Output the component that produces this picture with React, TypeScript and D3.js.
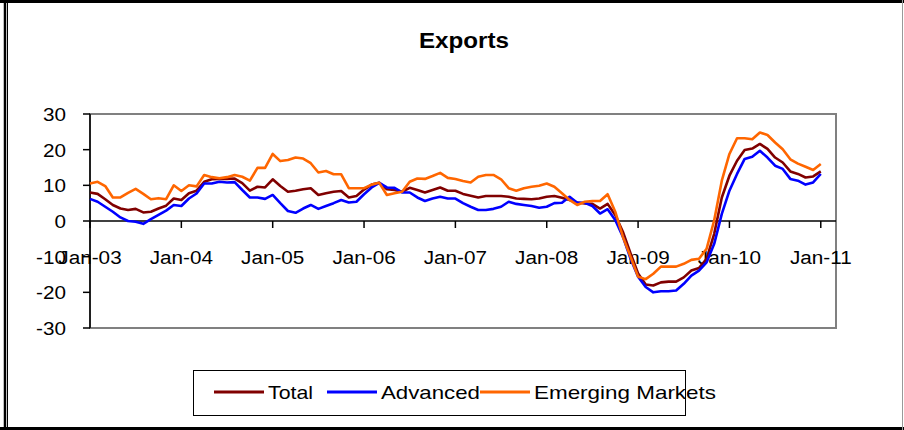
import React from "react";
import * as d3 from "d3";

// monthly series, Jan-03 .. Jan-11 (97 months), % y/y
const total = [
  8.0, 7.6, 6.1, 4.5, 3.5, 3.1, 3.4, 2.4, 2.6, 3.5, 4.3, 6.3,
  5.9, 7.8, 8.5, 11.0, 11.7, 11.8, 11.8, 11.9, 10.6, 8.5, 9.6, 9.4,
  11.7, 9.8, 8.2, 8.5, 8.9, 9.2, 7.3, 7.8, 8.2, 8.4, 6.6, 7.0,
  8.8, 10.2, 10.7, 8.9, 8.7, 8.2, 9.3, 8.7, 8.0, 8.7, 9.4, 8.5,
  8.5, 7.6, 7.1, 6.6, 7.0, 7.0, 7.0, 6.8, 6.3, 6.2, 6.1, 6.3,
  6.8, 7.0, 6.5, 5.9, 5.2, 4.9, 4.8, 3.5, 4.8, 1.7, -3.0, -9.0,
  -14.7, -17.8, -18.1, -17.2, -17.0, -17.0, -15.8, -13.9, -13.2, -10.6, -3.6, 6.6,
  12.7, 16.9, 19.9, 20.3, 21.6, 20.2, 17.8, 16.4, 13.9, 13.2, 12.2, 12.5,
  13.9,
];

const advanced = [
  6.2, 5.4, 4.0, 2.6, 1.0, 0.0, -0.2, -0.8, 0.5, 1.7, 2.9, 4.5,
  4.2, 6.3, 7.7, 10.5, 10.5, 11.0, 10.8, 10.9, 8.7, 6.6, 6.6, 6.2,
  7.3, 5.0, 2.8, 2.3, 3.5, 4.5, 3.4, 4.2, 5.0, 5.9, 5.2, 5.4,
  7.5, 9.4, 10.7, 9.4, 9.3, 8.0, 8.0, 6.6, 5.6, 6.3, 6.8, 6.3,
  6.3, 5.0, 4.0, 3.1, 3.1, 3.4, 4.0, 5.4, 4.8, 4.5, 4.2, 3.7,
  4.0, 5.0, 5.1, 6.8, 5.1, 5.1, 4.2, 2.1, 3.3, 0.3, -4.4, -10.5,
  -15.6, -18.5, -20.0, -19.7, -19.7, -19.5, -17.6, -15.3, -13.9, -11.6, -6.4, 2.0,
  8.5, 13.2, 17.4, 18.0, 19.7, 17.8, 15.5, 14.6, 11.8, 11.3, 10.2, 10.8,
  13.2,
];

const emerging = [
  10.5, 11.0, 9.8, 6.6, 6.6, 7.9, 9.0, 7.6, 6.1, 6.4, 6.1, 10.0,
  8.4, 10.0, 9.7, 12.9, 12.3, 12.0, 12.3, 12.9, 12.4, 11.3, 14.9, 14.9,
  18.8, 16.8, 17.1, 17.8, 17.5, 16.2, 13.6, 14.0, 13.1, 13.1, 9.2, 9.2,
  9.2, 10.2, 10.7, 7.3, 7.8, 8.2, 11.0, 11.9, 11.8, 12.6, 13.5, 12.1,
  11.8, 11.2, 10.8, 12.4, 12.9, 12.9, 11.7, 9.2, 8.5, 9.2, 9.6, 9.9,
  10.5, 9.6, 7.8, 5.9, 4.5, 5.4, 5.6, 5.6, 7.5, 2.6, -4.4, -10.0,
  -15.6, -16.3, -14.8, -12.8, -12.8, -12.8, -12.0, -10.9, -10.6, -7.8, 0.2, 11.3,
  18.8, 23.2, 23.2, 22.9, 24.8, 24.1, 22.0, 20.1, 17.3, 16.1, 15.2, 14.3,
  16.0,
];

const xTickLabels = ["Jan-03", "Jan-04", "Jan-05", "Jan-06", "Jan-07", "Jan-08", "Jan-09", "Jan-10", "Jan-11"];
const yTicks = [30, 20, 10, 0, -10, -20, -30];

const seriesNames = ["Total", "Advanced", "Emerging Markets"];
const seriesColors = ["#800000", "#0000ff", "#ff6600"];

const W = 904;
const H = 430;
const plot = { left: 90, right: 836, top: 114, bottom: 328 };
const font = "'Liberation Sans', Arial, sans-serif";

// Excel draws its text a bit wider than the browser does
function Wide(props: { x: number; y: number; sx: number; anchor?: string; size: number; bold?: boolean; children: React.ReactNode }) {
  const { x, y, sx, anchor = "start", size, bold, children } = props;
  return (
    <text
      transform={`translate(${x},${y}) scale(${sx},1)`}
      textAnchor={anchor}
      dy="0.36em"
      fontSize={size}
      fontWeight={bold ? "bold" : "normal"}
    >
      {children}
    </text>
  );
}

export default function App() {
  const x = d3.scaleLinear().domain([0, 98]).range([plot.left, plot.right]);
  const y = d3.scaleLinear().domain([-30, 30]).range([plot.bottom, plot.top]);

  const line = d3
    .line<number>()
    .x((_, i) => x(i))
    .y((d) => y(d));

  const all = [total, advanced, emerging];
  const y0 = y(0);
  const legendX = [214, 327, 480];
  const legendW = [45, 99, 182];

  return (
    <svg
      width={W}
      height={H}
      style={{ position: "absolute", left: 0, top: 0, background: "#fff" }}
      fontFamily={font}
    >
      <rect x={0} y={0} width={W} height={H} fill="#fff" />
      {/* outer frame */}
      <line x1={0} x2={W} y1={1.5} y2={1.5} stroke="#000" strokeWidth={3} />
      <line x1={5} x2={5} y1={0} y2={H} stroke="#000" strokeWidth={2.5} />
      <line x1={7.5} x2={7.5} y1={0} y2={H} stroke="#000" strokeWidth={1} />
      <line x1={0} x2={W} y1={428.5} y2={428.5} stroke="#000" strokeWidth={3} />
      <line x1={902.5} x2={902.5} y1={0} y2={H} stroke="#999" strokeWidth={1} />

      <Wide x={464} y={40} sx={1.1} anchor="middle" size={22} bold>
        Exports
      </Wide>

      {/* plot area */}
      <rect
        x={plot.left}
        y={plot.top}
        width={plot.right - plot.left}
        height={plot.bottom - plot.top}
        fill="none"
        stroke="#808080"
        strokeWidth={2}
      />

      {/* y axis */}
      <line x1={plot.left} x2={plot.left} y1={plot.top} y2={plot.bottom} stroke="#000" strokeWidth={1.5} />
      {yTicks.map((t) => (
        <g key={t}>
          <line x1={plot.left - 7} x2={plot.left} y1={y(t)} y2={y(t)} stroke="#000" strokeWidth={1.5} />
          <Wide x={66} y={y(t)} sx={1.09} anchor="end" size={19}>
            {t}
          </Wide>
        </g>
      ))}

      {/* x axis at zero */}
      <line x1={plot.left} x2={plot.right} y1={y0} y2={y0} stroke="#000" strokeWidth={1.5} />
      {xTickLabels.map((lab, i) => (
        <g key={lab}>
          <line x1={x(i * 12)} x2={x(i * 12)} y1={y0} y2={y0 + 7} stroke="#000" strokeWidth={1.5} />
          <Wide x={x(i * 12)} y={257} sx={1.09} anchor="middle" size={19}>
            {lab}
          </Wide>
        </g>
      ))}

      {/* series */}
      {all.map((s, i) => (
        <path
          key={seriesNames[i]}
          d={line(s) ?? ""}
          fill="none"
          stroke={seriesColors[i]}
          strokeWidth={2.6}
          strokeLinejoin="round"
        />
      ))}

      {/* legend */}
      <rect x={193.5} y={370.5} width={492} height={45} fill="#fff" stroke="#000" strokeWidth={1} />
      {seriesNames.map((name, i) => (
        <g key={name}>
          <line x1={legendX[i]} x2={legendX[i] + 50} y1={392} y2={392} stroke={seriesColors[i]} strokeWidth={3} />
          <text
            x={legendX[i] + 54}
            y={392}
            dy="0.36em"
            fontSize={19}
            textLength={legendW[i]}
            lengthAdjust="spacingAndGlyphs"
          >
            {name}
          </text>
        </g>
      ))}
    </svg>
  );
}
